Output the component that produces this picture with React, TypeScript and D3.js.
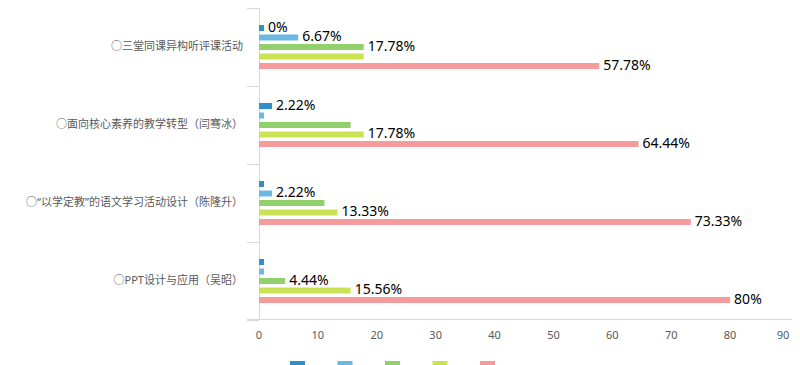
import React from "react";
import * as d3 from "d3";

// categories top to bottom
const categories = [
  "○三堂同课异构听评课活动",
  "○面向核心素养的教学转型（闫骞冰）",
  "○“以学定教”的语文学习活动设计（陈隆升）",
  "○PPT设计与应用（吴昭）",
];

const seriesKeys = ["s1", "s2", "s3", "s4", "s5"];
const seriesColors = ["#2f8fc6", "#6cb8e2", "#92cf6d", "#cce255", "#f69b9b"];

// values per series (percent), one entry per category
const s1 = [0, 2.22, 0, 0];
const s2 = [6.67, 0, 2.22, 0];
const s3 = [17.78, 15.56, 11.11, 4.44];
const s4 = [17.78, 17.78, 13.33, 15.56];
const s5 = [57.78, 64.44, 73.33, 80];
const seriesValues = [s1, s2, s3, s4, s5];

const xTicks = [0, 10, 20, 30, 40, 50, 60, 70, 80, 90];

const W = 800;
const H = 365;
const LABEL_FONT = "14px 'Noto Sans', sans-serif";
const MIN_BAR = 5;

let ctx: CanvasRenderingContext2D | null = null;
function textWidth(t: string) {
  if (!ctx) ctx = document.createElement("canvas").getContext("2d");
  if (!ctx) return t.length * 7.5;
  ctx.font = LABEL_FONT;
  return ctx.measureText(t).width;
}

export default function App() {
  const x = d3.scaleLinear().domain([0, 90]).range([259, 789]);
  const y = d3.scaleBand<string>().domain(categories).range([8, 320]);
  const yInner = d3
    .scaleBand<string>()
    .domain(seriesKeys)
    .range([0, y.bandwidth()])
    .paddingInner(0.37)
    .paddingOuter(1.79);

  const bars = categories.flatMap((c, ci) =>
    seriesKeys.map((k, si) => {
      const v = seriesValues[si][ci];
      const y0 = (y(c) ?? 0) + (yInner(k) ?? 0);
      const w = Math.max(x(v) - x(0), MIN_BAR);
      return { c, ci, si, v, y0, w, h: yInner.bandwidth() };
    })
  );

  // data labels, hide overlapping ones (bigger value wins, padded boxes)
  const pad = 5;
  const labels = bars.map((b) => {
    const text = `${+b.v.toFixed(2)}%`;
    const lx = x(0) + b.w + 4;
    const ly = b.y0 + b.h / 2;
    const tw = textWidth(text);
    return {
      ...b,
      text,
      lx,
      ly,
      box: { x0: lx - pad, x1: lx + tw + pad, y0: ly - 7 - pad, y1: ly + 7 + pad },
      show: true,
    };
  });
  const ranked = [...labels].sort((a, b) => b.v - a.v || a.si - b.si);
  for (let i = 0; i < ranked.length; i++) {
    for (let j = i + 1; j < ranked.length; j++) {
      const a = ranked[i];
      const b = ranked[j];
      if (!a.show || !b.show) continue;
      const o =
        a.box.x0 < b.box.x1 &&
        b.box.x0 < a.box.x1 &&
        a.box.y0 < b.box.y1 &&
        b.box.y0 < a.box.y1;
      if (o) b.show = false;
    }
  }

  const boundaries = [...categories.map((c) => y(c) ?? 0), y.range()[1]];
  const legendX = d3.scalePoint<string>().domain(seriesKeys).range([290, 480]);

  return (
    <svg width={W} height={H} style={{ position: "absolute", left: 0, top: 0 }}>
      <rect width={W} height={H} fill="#fff" />
      {/* category axis */}
      <line x1={259.5} x2={259.5} y1={8} y2={320} stroke="#d9d9d9" />
      {boundaries.map((b, i) => (
        <line key={i} x1={247} x2={259} y1={b + 0.5} y2={b + 0.5} stroke="#d9d9d9" />
      ))}
      {categories.map((c) => (
        <text
          key={c}
          x={243}
          y={(y(c) ?? 0) + y.bandwidth() / 2}
          textAnchor="end"
          dominantBaseline="middle"
          fontSize={11}
          fill="#595959"
          fontFamily="'Noto Sans', 'Noto Sans CJK SC', sans-serif"
        >
          {c}
        </text>
      ))}
      {/* value axis */}
      <line x1={247} x2={792} y1={319.5} y2={319.5} stroke="#d9d9d9" />
      {xTicks.map((t) => (
        <text
          key={t}
          x={t === 90 ? x(t) - 6 : x(t)}
          y={336}
          textAnchor="middle"
          dominantBaseline="middle"
          fontSize={11}
          fill="#595959"
          fontFamily="'Noto Sans', sans-serif"
        >
          {t}
        </text>
      ))}
      {bars.map((b, i) => (
        <rect
          key={i}
          x={x(0)}
          y={b.y0}
          width={b.w}
          height={b.h}
          fill={seriesColors[b.si]}
        />
      ))}
      {labels
        .filter((l) => l.show)
        .map((l, i) => (
          <text
            key={i}
            x={l.lx}
            y={l.ly}
            dominantBaseline="middle"
            style={{ font: LABEL_FONT }}
            fill="#000"
          >
            {l.text}
          </text>
        ))}
      {/* legend (names cut off at the bottom) */}
      {seriesKeys.map((k, i) => (
        <rect
          key={k}
          x={legendX(k)}
          y={361}
          width={15}
          height={5}
          fill={seriesColors[i]}
        />
      ))}
    </svg>
  );
}
